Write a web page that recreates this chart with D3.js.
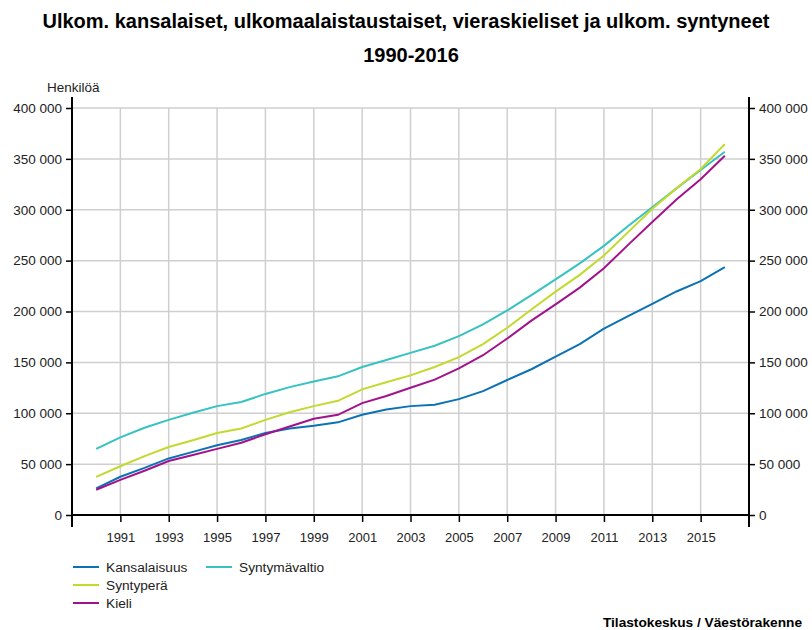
<!DOCTYPE html>
<html>
<head>
<meta charset="utf-8">
<script src="https://cdn.jsdelivr.net/npm/d3@7"></script>
<style>
	body { margin: 0; background: #fff; }
	text { font-family: "Liberation Sans", Arial, sans-serif; fill: #222; }
	.grid line { stroke: #cfcfcf; stroke-width: 1.5; }
	.axis line, .axis path { stroke: #000; }
</style>
</head>
<body>
<div class="chart"></div>
<script>

const years = d3.range(1990, 2017);
const seriesNames = ["Kansalaisuus", "Syntymävaltio", "Syntyperä", "Kieli"];
const seriesColors = ["#0b72b5", "#36c3bf", "#c2d92e", "#a3128a"];

const kansalaisuus = [26255, 37579, 46279, 55587, 62012, 68566, 73754, 80600, 85060, 87680,
	91074, 98577, 103682, 107003, 108346, 113852, 121739, 132708, 143256, 155705,
	167954, 183133, 195511, 207511, 219675, 229765, 243639];
const syntymavaltio = [64900, 76300, 85800, 93500, 100500, 107000, 111000, 119000, 125700, 131300,
	136300, 145500, 152300, 159300, 166400, 175800, 187400, 201000, 216100, 231500,
	247300, 264500, 284000, 302500, 321000, 339000, 357000];
const syntypera = [37400, 47900, 57800, 66800, 73500, 80500, 85000, 93500, 101000, 107000,
	112200, 123500, 130500, 137200, 145500, 155200, 168000, 184000, 202000, 219500,
	236000, 255000, 278000, 301000, 321000, 340000, 364500];
const kieli = [24800, 34500, 43500, 53000, 59000, 65000, 71000, 79300, 87000, 94500,
	98500, 110000, 117000, 125000, 133000, 144000, 157000, 173500, 191000, 207000,
	223500, 242500, 265500, 288000, 310000, 330000, 353000];

const yTicks = [0, 50000, 100000, 150000, 200000, 250000, 300000, 350000, 400000];
const xTicks = [1991, 1993, 1995, 1997, 1999, 2001, 2003, 2005, 2007, 2009, 2011, 2013, 2015];

const width = 812, height = 630;
const plotLeft = 72, plotRight = 749, plotTop = 108, plotBottom = 515;

const svg = d3.select(".chart").append("svg")
	.attr("width", width)
	.attr("height", height);

const x = d3.scaleLinear().domain([1989, 2017]).range([plotLeft, plotRight]);
const y = d3.scaleLinear().domain([0, 400000]).range([plotBottom, plotTop]);

const fmt = d3.formatLocale({ decimal: ",", thousands: " ", grouping: [3], currency: ["", ""] }).format(",d");

// title
svg.append("text")
	.attr("x", 406).attr("y", 28)
	.attr("text-anchor", "middle")
	.style("font-size", "20px").style("font-weight", "bold").style("fill", "#000")
	.text("Ulkom. kansalaiset, ulkomaalaistaustaiset, vieraskieliset ja ulkom. syntyneet");
svg.append("text")
	.attr("x", 411).attr("y", 62)
	.attr("text-anchor", "middle")
	.style("font-size", "20px").style("font-weight", "bold").style("fill", "#000")
	.text("1990-2016");

svg.append("text")
	.attr("x", 47).attr("y", 92)
	.style("font-size", "13.5px")
	.text("Henkilöä");

// grid
const grid = svg.append("g").attr("class", "grid");
grid.selectAll(".h").data(yTicks.slice(1)).enter()
	.append("line")
		.attr("x1", plotLeft).attr("x2", plotRight)
		.attr("y1", (d) => y(d)).attr("y2", (d) => y(d));
grid.selectAll(".v").data(xTicks).enter()
	.append("line")
		.attr("x1", (d) => x(d)).attr("x2", (d) => x(d))
		.attr("y1", plotTop).attr("y2", plotBottom);

// lines
const line = d3.line()
	.x((d, i) => x(years[i]))
	.y((d) => y(d));

[kansalaisuus, syntymavaltio, syntypera, kieli].forEach((values, i) => {
	svg.append("path")
		.datum(values)
		.attr("fill", "none")
		.attr("stroke", seriesColors[i])
		.attr("stroke-width", 2)
		.attr("d", line);
});

// axes
const leftAxis = d3.axisLeft(y).tickValues(yTicks).tickFormat(fmt).tickSize(6).tickPadding(4);
const rightAxis = d3.axisRight(y).tickValues(yTicks).tickFormat(fmt).tickSize(6).tickPadding(4);
const bottomAxis = d3.axisBottom(x).tickValues(xTicks).tickFormat(d3.format("d")).tickSize(7).tickPadding(11);

function styleAxis(g, size) {
	g.select(".domain").remove();
	g.selectAll("line").attr("stroke-width", 1.5);
	g.selectAll("text").style("font-size", size).style("fill", "#222").attr("font-family", null);
}

svg.append("g").attr("class", "axis")
	.attr("transform", `translate(${plotLeft},0)`)
	.call(leftAxis).call(styleAxis, "13.5px");
svg.append("g").attr("class", "axis")
	.attr("transform", `translate(${plotRight},0)`)
	.call(rightAxis).call(styleAxis, "13.5px");
svg.append("g").attr("class", "axis")
	.attr("transform", `translate(0,${plotBottom})`)
	.call(bottomAxis).call(styleAxis, "13px");

svg.append("line")
	.attr("x1", plotLeft).attr("x2", plotLeft).attr("y1", 97).attr("y2", 527)
	.attr("stroke", "#000").attr("stroke-width", 2);
svg.append("line")
	.attr("x1", plotRight).attr("x2", plotRight).attr("y1", 97).attr("y2", 527)
	.attr("stroke", "#000").attr("stroke-width", 2);
svg.append("line")
	.attr("x1", plotLeft).attr("x2", plotRight).attr("y1", plotBottom).attr("y2", plotBottom)
	.attr("stroke", "#000").attr("stroke-width", 2);

// legend
const legendPos = [[73, 567], [206, 567], [73, 585], [73, 603]];
const legend = svg.selectAll(".legend")
	.data(seriesNames).enter()
	.append("g")
		.attr("class", "legend")
		.attr("transform", (d, i) => `translate(${legendPos[i][0]},${legendPos[i][1]})`);
legend.append("line")
	.attr("x1", 0).attr("x2", 26)
	.attr("stroke", (d, i) => seriesColors[i])
	.attr("stroke-width", 2);
legend.append("text")
	.attr("x", 33).attr("y", 5)
	.style("font-size", "13.7px")
	.text((d) => d);

svg.append("text")
	.attr("x", 802).attr("y", 627)
	.attr("text-anchor", "end")
	.style("font-size", "13.7px").style("font-weight", "bold").style("fill", "#000")
	.text("Tilastokeskus / Väestörakenne");

</script>
</body>
</html>
